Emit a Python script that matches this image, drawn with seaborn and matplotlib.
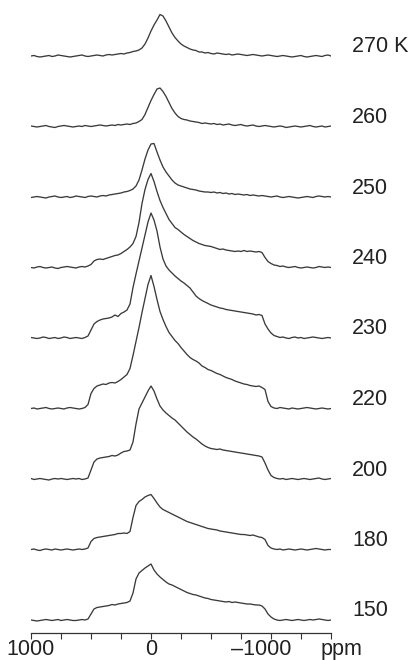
import matplotlib
matplotlib.use('Agg')
import numpy as np
import pandas as pd
import matplotlib.pyplot as plt
import seaborn as sns
from matplotlib.ticker import FixedLocator, MultipleLocator
from matplotlib.transforms import ScaledTranslation

# chemical shift grid (ppm), one sample every 25 ppm from 1000 to -1500
ppm = np.arange(1000, -1501, -25)

# temperatures, top to bottom
temps = ['270 K', '260', '250', '240', '230', '220', '200', '180', '150']

# intensities (in "pixel" units above each baseline)
y_270 = [0, 0.5, -0.5, -1, -0.5, 0, 0.5, -0.5, 0, 1,
         0.5, 0, -0.5, -1, -0.5, 0, 0.5, 1, 0, -0.5,
         0, 0.5, 1, 0.5, 0, 1, 1.5, 1, 1.5, 2,
         2.5, 2, 3, 3.5, 4.5, 5, 6, 8, 12, 18,
         25, 31, 36, 41.5, 40, 35, 29, 23, 18.5, 15,
         12, 10, 8.5, 7, 6, 5.5, 4, 4, 3, 3.5,
         2.5, 2, 3, 2.5, 2, 1.5, 2, 1, 1.5, 2,
         1.5, 1, 0.5, 1, 1.5, 1, 0.5, 0, 0.5, 1,
         0.5, 0, -0.5, 0, 0.5, 0, -0.5, -1, -0.5, 0,
         0.5, -0.5, -1, -0.5, 0, 0.5, 0, -0.5, 0.5, 1,
         0]
y_260 = [0.5, 0, -0.5, 0, 0.5, 1, 0, -0.5, -1, 0,
         0.5, 1, 0.5, 0, -0.5, 0, 0.5, 0, 1, 0.5,
         0, 0.5, 1, 1.5, 1, 0.5, 1, 1.5, 1, 2,
         1.5, 2, 2.5, 2, 3, 3.5, 5, 7, 12, 19,
         26, 32, 37.5, 38.5, 35, 30, 24, 18, 13.5, 10,
         8, 7, 6.5, 5.5, 5, 4.5, 4, 3, 3.5, 3,
         2.5, 3, 2, 2.5, 1.5, 2, 2.5, 1.5, 1, 1.5,
         2, 1, 0.5, 1, 1.5, 0.5, 0, 0.5, 1, 0.5,
         0, -0.5, 0, 0.5, 0, -1, -0.5, 0, 0.5, 0,
         -0.5, 0, 0.5, 1, 0, -0.5, 0, 0.5, -0.5, 0,
         0.5]
y_250 = [-0.5, 0, 0.5, 0, -0.5, -1, 0, 0.5, 1, 0,
         -0.5, 0, 0.5, -0.5, 0, 1, 0.5, 0, -0.5, 0.5,
         1, 0.5, 0, 1, 1.5, 1, 2, 2.5, 3, 3.5,
         4, 5, 5.5, 6.5, 8, 11, 17, 27, 38, 47,
         53, 53.5, 45, 37, 30, 25, 21, 17, 14, 12,
         11, 10, 9, 8, 7.5, 7, 6, 5.5, 5, 5,
         4.5, 5, 4, 4.5, 3.5, 4, 3, 3.5, 2.5, 3,
         2.5, 2, 2.5, 1.5, 2, 1.5, 1, 1.5, 1, 0.5,
         0, 0.5, 1, 0, -0.5, 0, 0.5, 0, -0.5, -1,
         -0.5, 0, 0.5, 0, -0.5, 0.5, 1, 0.5, 0, 0.5,
         0]
y_240 = [0, -0.5, 0.5, 1, 0, -0.5, 0, 0.5, -0.5, -1,
         0, 0.5, 1, 0.5, 0, -0.5, 0.5, 1, 0.5, 1.5,
         3, 6.5, 8, 8.5, 8, 9, 10, 11, 12, 12.5,
         14, 16, 18, 20.5, 24, 31, 45, 64, 78, 88,
         94, 86, 76, 67, 60, 54, 48, 44, 40, 38,
         35.5, 33, 31, 29, 27, 25.5, 24, 23, 22, 21.5,
         21, 20, 19, 18, 18.5, 17.5, 17, 16.5, 16, 16.5,
         16, 17, 16, 16.5, 16, 15.5, 16, 15, 10, 6,
         4, 2.5, 2, 1, 1.5, 0.5, 0, 0.5, 1, 0,
         -0.5, 0, 0.5, 0, -0.5, 0, 1, 0.5, 0, 0.5,
         0]
y_230 = [0.5, 0, -0.5, 0, 1, 0.5, -0.5, 0, 0.5, -0.5,
         0, 1, 0.5, -0.5, 0, 0.5, 0, -0.5, 0.5, 2,
         8, 14, 16.5, 18, 19, 19.5, 20, 21, 23, 21.5,
         24.5, 26, 28, 34, 50.5, 64, 77, 90, 103, 116,
         125, 118, 107, 91, 79, 72, 68, 65, 62, 59.5,
         57, 55, 52.5, 50, 46, 42, 39.5, 37.5, 36, 34.5,
         33, 32, 31, 30, 29.5, 28.5, 28, 27.5, 27, 26.5,
         26, 25.5, 25, 24.5, 24, 23, 23.5, 22.5, 14, 9,
         5, 2.5, 1.5, 0.5, 1, 0, -0.5, 0.5, 1, 0,
         0.5, -0.5, 0, 0.5, 1, 0.5, 0, -0.5, 0, 0.5,
         0]
y_220 = [0, 0.5, -0.5, 0, 0.5, 1, 0, -0.5, 0, 0.5,
         0, -0.5, 0.5, 1, 0.5, 0, -0.5, 0, 1, 4,
         15, 20, 22.5, 23.5, 24.5, 24, 25.5, 26, 25.5, 27,
         29, 31.5, 34, 40, 53, 67, 81, 96, 110, 124,
         133, 122, 109, 97, 89, 82, 76, 72, 68, 65,
         61, 57.5, 54, 51, 49, 47.5, 45.5, 42.5, 41, 39,
         38, 36.5, 35, 34, 32.5, 31, 30, 29, 27.5, 26.5,
         25.5, 24.5, 24, 23, 22.5, 22, 22.5, 21, 19, 7,
         2, 0.5, 0, 1, 0.5, 0, -0.5, 0.5, 0, -0.5,
         0, 0.5, 1, 0.5, 0, -0.5, 0, 0.5, 0, -0.5,
         0]
y_200 = [0.5, -0.5, 0, 0.5, 0, -0.5, -1, 0, 0.5, 0,
         0.5, 0, -0.5, 0, 0.5, 0, 0.5, -0.5, 0, 1,
         9, 17, 20, 21, 21.5, 22, 22.5, 23.5, 23, 24,
         26, 27.5, 28, 29, 37, 55, 70, 76, 82, 88,
         93, 88, 80, 73, 69, 66, 63.5, 61, 59, 56,
         53, 50, 47, 44.5, 42, 40, 37.5, 35, 33, 31.5,
         30.5, 30, 29.5, 30, 29, 28.5, 28, 27.5, 27, 26.5,
         26, 25.5, 25, 24.5, 24, 23.5, 23, 22, 16, 9,
         3.5, 1.5, 0.5, 0, 0.5, -0.5, 0, 0.5, 0, -0.5,
         0, 0.5, 0, -0.5, 0, 0.5, 1, 0, -0.5, 0,
         0.5]
y_180 = [0, 0.5, -0.5, -1, 0, 0.5, 0, -0.5, 0.5, 0,
         -0.5, 0, 0.5, 0, -0.5, 0, 0.5, 0, 0.5, 1.5,
         8, 11, 12, 12.5, 13, 13.5, 14, 14.5, 15, 16,
         16, 16.5, 16, 18, 32, 44, 48, 50, 52.5, 54,
         55, 51, 46.5, 42.5, 40, 38.5, 37, 35.5, 34, 32.5,
         31, 29.5, 28, 27, 26, 25, 24, 23, 22, 21,
         20.5, 20, 19.5, 18.5, 18, 17.5, 17, 16.5, 16, 15.5,
         15, 15, 14.5, 14, 14.5, 13.5, 12.5, 12, 10, 4,
         1.5, 0.5, 0, 0.5, -0.5, 0, 0.5, 0, -0.5, 0,
         0.5, 0, -0.5, 0, 0.5, 1, 0.5, 0, -0.5, 0,
         0]
y_150 = [0, -0.5, -1, -0.5, 0, 0.5, 0, -0.5, 0, 0.5,
         -0.5, 0, 0.5, 0, -0.5, -0.5, 0, 0.5, 0, 1,
         6, 11, 12.5, 13, 13.5, 14, 14.5, 15.5, 15, 16,
         16.5, 17, 17.5, 19, 27, 41, 47, 49.5, 52, 54,
         56, 50, 46, 43, 40.5, 38, 36, 35, 33.5, 32,
         30.5, 29, 27.5, 26.5, 25.5, 25, 24, 23, 22, 21.5,
         20.5, 20, 19.5, 19, 18.5, 18, 18.5, 17.5, 18, 17.5,
         17, 16.5, 16, 16, 15.5, 15, 15, 14, 11, 6,
         3, 1, 0, -0.5, 0, 0.5, 0, -0.5, 0, 0.5,
         0, -0.5, 0, 0.5, 0, 0.5, 1, 0.5, 0, -0.5,
         0]

spectra = [y_270, y_260, y_250, y_240, y_230, y_220, y_200, y_180, y_150]

step = 70.5   # vertical spacing between traces
base = 13     # baseline of the lowest trace

sns.set_style('white')
plt.rcParams['font.family'] = ['Liberation Sans', 'DejaVu Sans']

fig = plt.figure(figsize=(4.17, 6.6), dpi=100)
ax = fig.add_axes([31 / 417, 27 / 660, 300 / 417, 623 / 660])

n = len(temps)
for k, (t, y) in enumerate(zip(temps, spectra)):
    assert len(y) == len(ppm), (t, len(y))
    shift = base + step * (n - 1 - k)
    df = pd.DataFrame({'ppm': ppm, 'y': np.array(y) + shift})
    sns.lineplot(data=df, x='ppm', y='y', color='#3a3a3a', lw=0.95, ax=ax)
    ax.text(1.07, shift + 3.5, t, transform=ax.get_yaxis_transform(),
            ha='left', va='baseline', fontsize=15.5, color='#222222', clip_on=False)

ax.set_xlim(1000, -1500)
ax.set_ylim(0, 623)
ax.set_xlabel('')
ax.set_ylabel('')
ax.set_yticks([])
for s in ['left', 'top', 'right']:
    ax.spines[s].set_visible(False)
ax.spines['bottom'].set_color('#333333')
ax.spines['bottom'].set_linewidth(0.9)

ax.xaxis.set_major_locator(FixedLocator([1000, 0, -1000]))
ax.xaxis.set_minor_locator(MultipleLocator(250))
ax.set_xticklabels(['1000', '0', '\u20131000'])
ax.tick_params(axis='x', which='both', bottom=True, direction='out', length=4, width=0.8,
               color='#333333', labelsize=15.5, pad=0.5, labelcolor='#222222')
# the en dash hangs to the left of the number
lab = ax.get_xticklabels()[2]
lab.set_transform(lab.get_transform() + ScaledTranslation(-10 / 100, 0, fig.dpi_scale_trans))

fig.text(341 / 417, 5 / 660, 'ppm', ha='center', va='baseline', fontsize=15.5, color='#222222')

fig.savefig('out.png', dpi=100)
